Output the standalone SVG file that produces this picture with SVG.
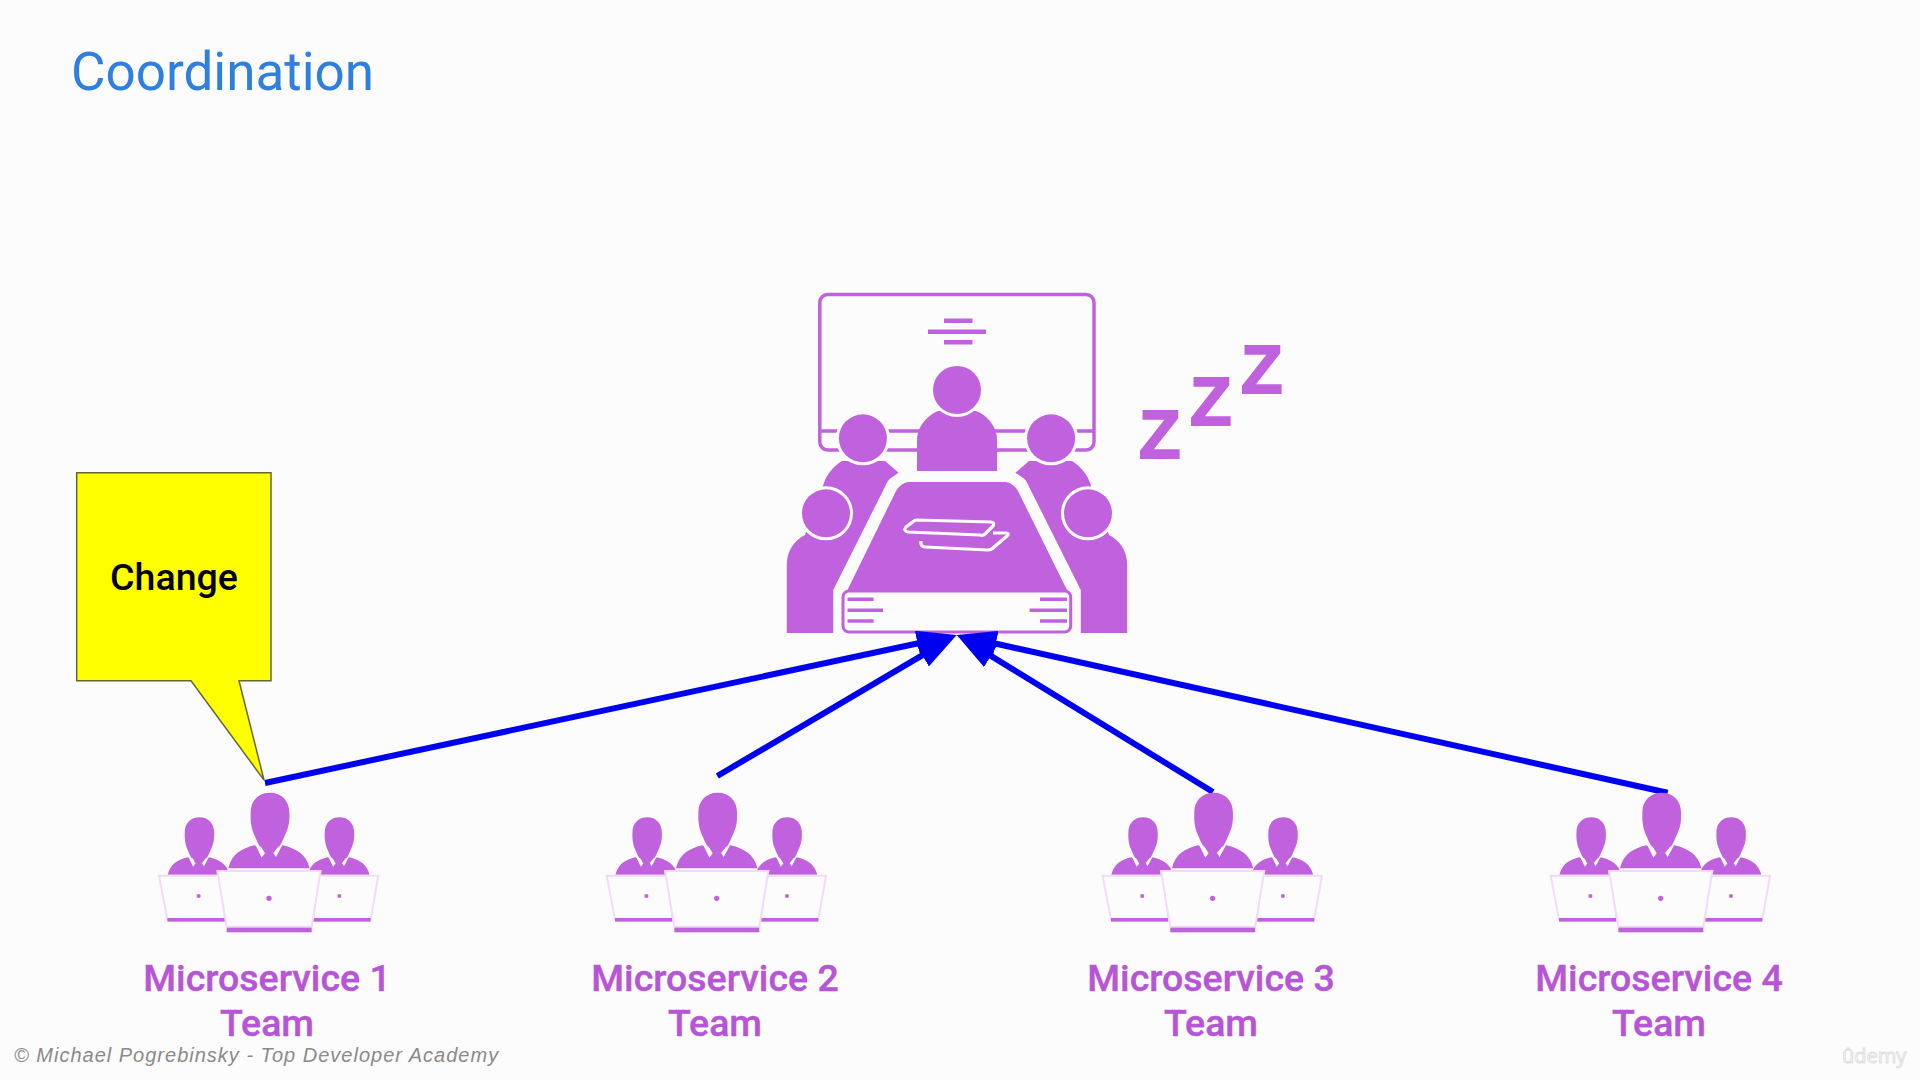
<svg xmlns="http://www.w3.org/2000/svg" xmlns:xlink="http://www.w3.org/1999/xlink" width="1920" height="1080" viewBox="0 0 1920 1080">
<style>
.p{fill:#c061dd}
.halo{fill:#c061dd;stroke:#fcfcfd;stroke-width:6;paint-order:stroke}
.bl{stroke:#c061dd;stroke-width:3.5;fill:none}
.lap{fill:#fcfcfd;stroke:#f0dcf6;stroke-width:6}
.wg{fill:#fcfcfd}
.lbl{font-family:Roboto,"Liberation Sans",sans-serif;font-weight:500;font-size:37.5px;fill:#b655d6;stroke:#b655d6;stroke-width:.4;text-anchor:middle}
.z{font-family:"Liberation Sans",Arial,sans-serif;font-weight:700;font-size:68px;fill:#c061dd;stroke:#c061dd;stroke-width:2}
.conn{stroke:#0000f0;stroke-width:6;fill:none;marker-end:url(#head)}
</style>
<defs>
<marker id="head" markerUnits="userSpaceOnUse" viewBox="0 -13 40 26" refX="20" refY="0" markerWidth="40" markerHeight="26" orient="auto">
<path d="M0,-13 L40,0 L0,13Z" fill="#0000f0"/>
</marker>
<g id="person">
<path class="p" d="M3,98 C38,98 61,122 61,158 C62,180 60,198 52,216 C44,234 38,250 30,262 L42,256 C80,266 112,282 122,325 L-122,325 C-112,282 -82,266 -44,256 L-26,262 C-34,250 -40,234 -48,216 C-54,198 -56,180 -55,158 C-55,122 -32,98 3,98Z"/>
<path class="wg" d="M-40,256 L-22,293 L-12,280 L-24,260Z M40,256 L21,291 L13,279 L28,260Z"/>
</g>
<g id="team-icon">
<use href="#person" transform="translate(-211 97.5) scale(.76)"/>
<use href="#person" transform="translate(209 97.5) scale(.76)"/>
<path class="lap" d="M-330,347 H-150 L-132,478 H-305Z"/>
<path class="lap" d="M328,347 H150 L132,478 H305Z"/>
<rect class="p" x="-305" y="474" width="173" height="11"/>
<rect class="p" x="132" y="474" width="173" height="11"/>
<circle class="p" cx="-211" cy="408" r="6"/>
<circle class="p" cx="211" cy="408" r="6"/>
<use href="#person"/>
<path class="lap" d="M-155,333 H155 L128,500 H-127Z"/>
<rect class="p" x="-127" y="503" width="255" height="14"/>
<circle class="p" cx="0" cy="415" r="8"/>
</g>
<g id="side-people">
<path class="p" d="M786.8,633 V565 C786.8,550 795,540 805,535 L824,483 C826,475 835,465 842,461 H885 L898.6,472.7 L892,477.3 C889,479 887,482 885,486.7 L833.2,590 V633Z"/>
<circle class="halo" cx="862.9" cy="438.3" r="24"/>
<circle class="halo" cx="826" cy="513.3" r="24"/>
</g>
</defs>
<rect width="1920" height="1080" fill="#fcfcfd"/>
<text x="71" y="90" font-family="Roboto,'Liberation Sans',sans-serif" font-size="53" fill="#2f7fe0">Coordination</text>

<g id="meeting">
<rect class="bl" x="819.8" y="294.5" width="274.2" height="155.5" rx="8"/>
<path class="bl" d="M820,431 H1094"/>
<path d="M944,320.7 H972.5 M928,331.7 H986 M944,342.3 H972.5" stroke="#c061dd" stroke-width="4.5" fill="none"/>
<path class="p" d="M917,471 V440 C917,425 930,414 938,411 H976 C985,414 997,425 997,440 V471Z"/>
<circle class="halo" cx="957" cy="390" r="24"/>
<use href="#side-people"/>
<use href="#side-people" transform="matrix(-1 0 0 1 1914 0)"/>
<path class="p" d="M909,482 H1005 C1010,482 1015,486 1018,491 L1067,590 L1069,592 H845 L847.5,590 L896,491 C899,486 904,482 909,482Z"/>
<path d="M917,520 L991,522 Q996,523 992,527 L985,534 Q983,536 980,535 L908,532 Q903,531 906,527 L914,521 Q915,520 917,520Z M921,541 V544 Q922,547 925,547 L988,550 Q991,550 993,548 L1007,536 Q1010,533 1006,533 L993,533" fill="none" stroke="#fcfcfd" stroke-width="3.2"/>
<rect x="843" y="591" width="227.7" height="41" rx="6" fill="#fcfcfd" stroke="#c061dd" stroke-width="3"/>
<path d="M847.5,599.3 H873.6 M847.5,610.3 H883 M847.5,621 H873.6 M1067,599.3 H1040 M1067,610.3 H1029.6 M1067,621 H1040" stroke="#c061dd" stroke-width="3.5" fill="none"/>
<text class="z" x="1139" y="457.5">Z</text>
<text class="z" x="1190" y="424.5">Z</text>
<text class="z" x="1241" y="392.5">Z</text>
</g>

<g id="connectors">
<path class="conn" d="M265,783 L937.1,639.2"/>
<path class="conn" d="M717.3,776 L939.5,645.1"/>
<path class="conn" d="M1213,792 L973.8,645.4"/>
<path class="conn" d="M1667.6,792.7 L976.2,639.3"/>
</g>

<g id="callout">
<path d="M76.7,472.7 H271 V680.7 H239 L264,780 L191,680.7 H76.7Z" fill="#ffff00" stroke="#666633" stroke-width="1.5"/>
<text x="174" y="590" font-family="Roboto,'Liberation Sans',sans-serif" font-weight="500" font-size="37.5" fill="#000" text-anchor="middle">Change</text>
</g>

<g id="team1"><use href="#team-icon" transform="translate(269 760) scale(.3333)"/>
<text class="lbl"><tspan x="267" y="991">Microservice 1</tspan><tspan x="267" y="1036">Team</tspan></text></g>
<g id="team2"><use href="#team-icon" transform="translate(716.7 760) scale(.3333)"/>
<text class="lbl"><tspan x="715" y="991">Microservice 2</tspan><tspan x="715" y="1036">Team</tspan></text></g>
<g id="team3"><use href="#team-icon" transform="translate(1212.6 760) scale(.3333)"/>
<text class="lbl"><tspan x="1211" y="991">Microservice 3</tspan><tspan x="1211" y="1036">Team</tspan></text></g>
<g id="team4"><use href="#team-icon" transform="translate(1660.7 760) scale(.3333)"/>
<text class="lbl"><tspan x="1659" y="991">Microservice 4</tspan><tspan x="1659" y="1036">Team</tspan></text></g>

<text x="14" y="1062" font-family="'Liberation Sans',Arial,sans-serif" font-style="italic" font-size="20" letter-spacing="1" fill="#8a8a8a">© Michael Pogrebinsky - Top Developer Academy</text>
<text x="1842" y="1063" font-family="'Open Sans',sans-serif" font-size="20" fill="#ffffff" stroke="#dedede" stroke-width="1">ûdemy</text>
</svg>
